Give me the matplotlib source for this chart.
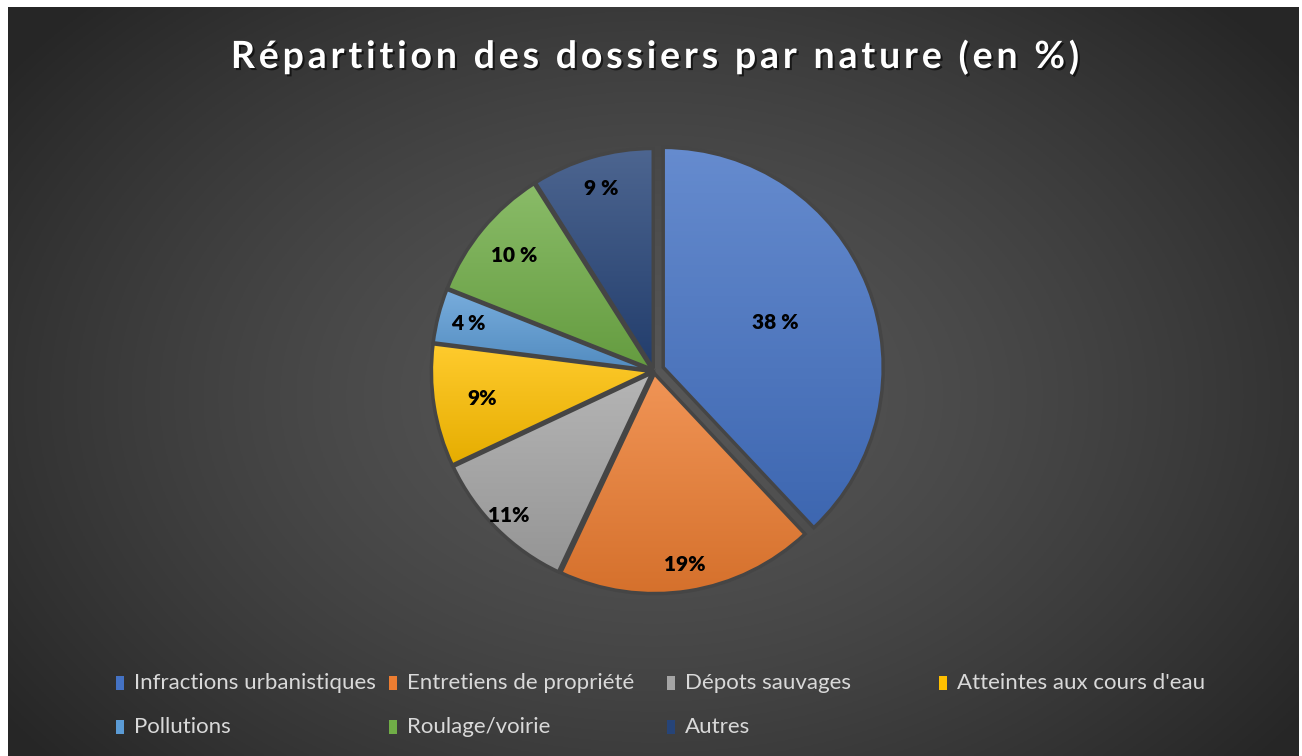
import numpy as np
import matplotlib
matplotlib.use("Agg")
from matplotlib import pyplot as plt
from matplotlib import colors as mcolors
from matplotlib import patheffects as pe
from matplotlib.patches import Rectangle
from matplotlib.font_manager import FontProperties, findfont
from matplotlib.ft2font import FT2Font

categories = ["Infractions urbanistiques", "Entretiens de propriété", "Dépots sauvages",
              "Atteintes aux cours d'eau", "Pollutions", "Roulage/voirie", "Autres"]
values = [38, 19, 11, 9, 4, 10, 9]
value_labels = ["38 %", "19%", "11%", "9%", "4 %", "10 %", "9 %"]
slice_colors = ["#4472C4", "#ED7D31", "#A5A5A5", "#FFC000", "#5B9BD5", "#70AD47", "#264478"]
title = "Répartition des dossiers par nature (en %)"

# layout
explode = [0.045, 0.012, 0.012, 0.012, 0.012, 0.012, 0.012]
label_dist = [0.55, 0.88, 0.92, 0.78, 0.86, 0.81, 0.85]
W, H = 1302, 756


def shade(c, f):
    rgb = np.array(mcolors.to_rgb(c))
    if f > 0:
        return rgb + (1 - rgb) * f
    return rgb * (1 + f)


fig = plt.figure(figsize=(W / 100, H / 100), dpi=100)
fig.patch.set_facecolor("white")

# dark radial background
bg = fig.add_axes([8 / W, 0, (1299 - 8) / W, (756 - 7) / H])
bg.set_axis_off()
yy, xx = np.mgrid[0:1:300j, 0:1:500j]
d = np.sqrt(((xx - 0.5) / 0.62) ** 2 + ((yy - 0.52) / 0.75) ** 2)
d = np.clip(d, 0, 1)
lum = 0.34 - 0.19 * d ** 1.4
bg.imshow(np.dstack([lum, lum, lum]), aspect="auto", extent=[0, 1, 0, 1])

# pie
cx, cy, r = 654, 371, 220
side = 2.3 * r
ax = fig.add_axes([(cx - side / 2) / W, (H - cy - side / 2) / H, side / W, side / H])
ax.set_aspect("equal")
ax.set_axis_off()

wedges, _ = ax.pie(values, colors=slice_colors, startangle=90, counterclock=False,
                   explode=explode, radius=1,
                   wedgeprops=dict(edgecolor="#454545", linewidth=2.5))

for w, c, lab, ld, ex in zip(wedges, slice_colors, value_labels, label_dist, explode):
    # vertical gradient inside each slice, lighter on top
    x0, y0, x1, y1 = w.get_path().get_extents().extents
    grad = np.linspace(0, 1, 100)[:, None, None]
    top, bot = shade(c, 0.18), shade(c, -0.1)
    img = bot * (1 - grad) + top * grad
    img = np.repeat(img, 2, axis=1)
    ax.imshow(img, extent=[x0, x1, y0, y1], origin="lower", aspect="auto",
              zorder=1, clip_path=w)
    w.set_facecolor("none")
    w.set_zorder(2)
    mid = np.deg2rad((w.theta1 + w.theta2) / 2)
    ax.text((ld + ex) * np.cos(mid), (ld + ex) * np.sin(mid), lab,
            ha="center", va="center", fontsize=15, fontweight="heavy",
            family="Lato", color="black", zorder=3)

ax.set_xlim(-1.15, 1.15)
ax.set_ylim(-1.15, 1.15)

# title with letter spacing (drawn char by char)
tsize = 27
fp = FontProperties(family="Lato", weight="bold", size=tsize)
ft = FT2Font(findfont(fp))
ft.set_size(tsize, 100)
adv = [ft.load_char(ord(ch)).linearHoriAdvance / 65536 for ch in title]
spacing = 3.8
total = sum(adv) + spacing * (len(title) - 1)
x = 655 - total / 2
shadow = [pe.withSimplePatchShadow(offset=(1.5, -1.5), shadow_rgbFace="black", alpha=0.6)]
for ch, a in zip(title, adv):
    if ch != " ":
        fig.text(x / W, 1 - 57 / H, ch, ha="left", va="center", fontproperties=fp,
                 color="white", path_effects=shadow)
    x += a + spacing

# legend
col_x = [116, 389, 667, 939]
row_y = [683, 727]
for i, (name, c) in enumerate(zip(categories, slice_colors)):
    px = col_x[i % 4]
    py = row_y[i // 4]
    fig.patches.append(Rectangle((px / W, (H - py - 7) / H), 8 / W, 14 / H,
                                 transform=fig.transFigure, facecolor=c, edgecolor="none"))
    fig.text((px + 18) / W, (H - py) / H, name, ha="left", va="center",
             fontsize=16, family="Lato", color="#d9d9d9")

fig.savefig("out.png", dpi=100, facecolor=fig.get_facecolor())
